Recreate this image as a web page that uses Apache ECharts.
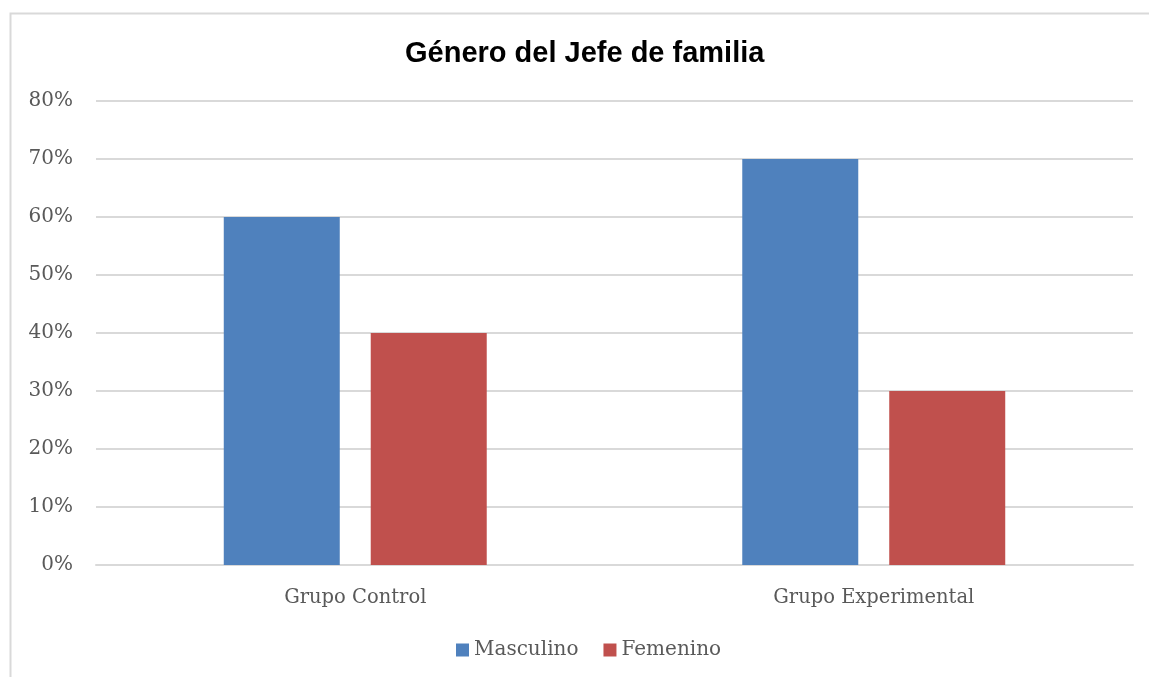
<!DOCTYPE html>
<html><head><meta charset="utf-8">
<script src="https://cdn.jsdelivr.net/npm/echarts@6/dist/echarts.min.js"></script>
<style>html,body{margin:0;padding:0;background:#fff}#c{width:1149px;height:677px}</style>
</head><body><div id="c"></div>
<script>
var categories = ['Grupo Control', 'Grupo Experimental'];
var masculino = [60, 70];
var femenino = [40, 30];
var seriesNames = ['Masculino', 'Femenino'];
var titleText = 'Género del Jefe de familia';

var chart = echarts.init(document.getElementById('c'));
var lblFont = 'DejaVu Serif';
chart.setOption({
  animation: false,
  backgroundColor: '#fff',
  graphic: [{type:'rect', shape:{x:10.5,y:13.5,width:1160,height:700}, style:{fill:'none', stroke:'#D9D9D9', lineWidth:2}, silent:true}],
  title: {text: titleText, left: 400, top: 34, textStyle:{fontFamily:'Liberation Sans', fontWeight:'bold', fontSize:29, color:'#000'}},
  grid: {left: 96, right: 16, top: 101, bottom: 112, containLabel:false},
  legend: {data: seriesNames, left: 451, top: 635, itemWidth: 13, itemHeight: 13, itemGap: 25,
    textStyle:{fontFamily:lblFont, fontSize:20, color:'#595959'}, icon:'rect'},
  xAxis: {type:'category', data: categories, axisLine:{lineStyle:{color:'#D9D9D9', width:2}}, axisTick:{show:false},
    axisLabel:{fontFamily:lblFont, fontSize:19.5, color:'#595959', margin:23}},
  yAxis: {type:'value', min:0, max:80, interval:10, axisLine:{show:false}, axisTick:{show:false},
    axisLabel:{formatter:'{value}%', fontFamily:lblFont, fontSize:20, color:'#595959', margin:23},
    splitLine:{lineStyle:{color:'#D9D9D9', width:2}}},
  series: [
    {name: seriesNames[0], type:'bar', data: masculino, barWidth:116, barGap:'26.7%', itemStyle:{color:'#4F81BD'}},
    {name: seriesNames[1], type:'bar', data: femenino, barWidth:116, itemStyle:{color:'#C0504D'}}
  ]
});
</script></body></html>
